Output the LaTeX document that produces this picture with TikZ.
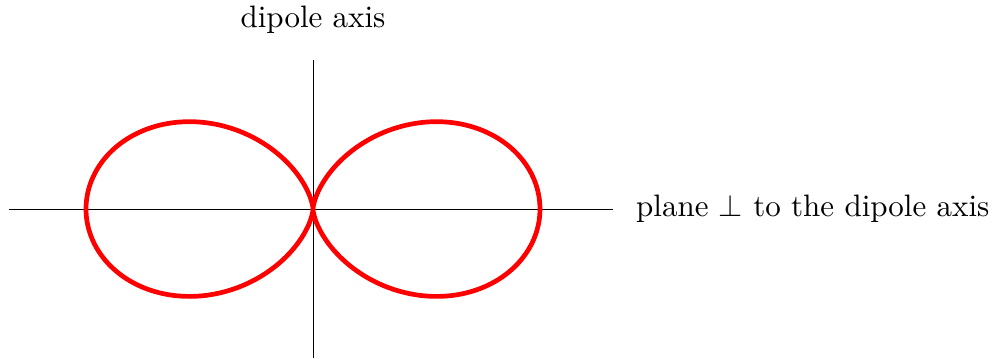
\documentclass[tikz,border=0pt]{standalone}
\usepackage{amsmath,amssymb}
\usepackage{tikz}
\usetikzlibrary{positioning}

\tikzset{
  axisline/.style={line width=0.3pt},
  lobe/.style={red, line width=1.5pt},
  axislabel/.style={font=\normalsize, inner sep=0pt, scale=0.99}
}

\begin{document}
\begin{tikzpicture}
\useasboundingbox (-3.513,-1.672) rectangle (7.688,2.346);
% axes
\coordinate (xl) at (-3.412,0);
\coordinate (xr) at (3.367,0);
\coordinate (yb) at (0,-1.672);
\coordinate (yt) at (0,1.672);
\draw[axisline] (xl) -- (xr);
\draw[axisline] (yb) -- (yt);
\node[axislabel, anchor=west] (planelab) at (3.62,0) {plane $\perp$ to the dipole axis};
\node[axislabel] (axislab) at (0,2.12) {dipole axis};
% Strahlungsdiagramm sin^2
\draw[lobe] plot[domain=0:360, samples=240, smooth] (\x:{2.548*cos(\x)*cos(\x)});
\end{tikzpicture}
\end{document}
